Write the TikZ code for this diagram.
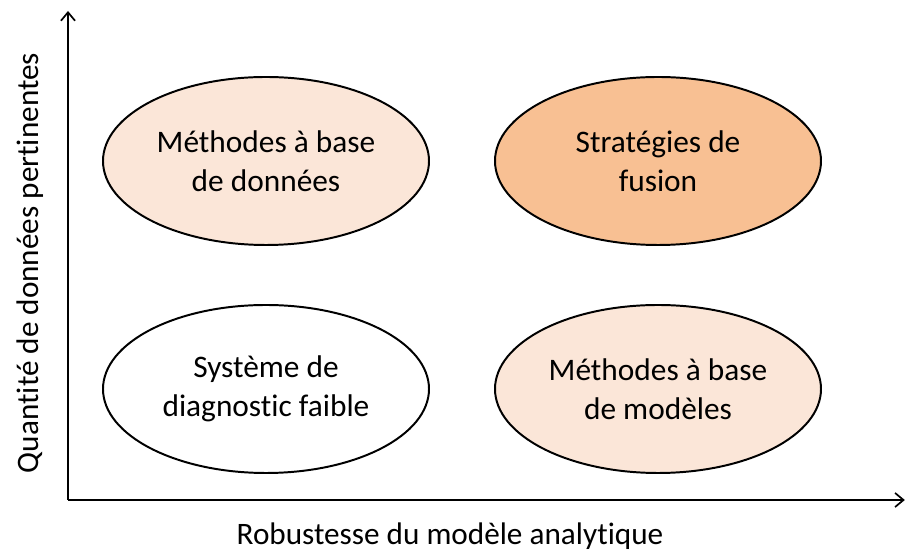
\documentclass[tikz,border=0pt]{standalone}
\usepackage{fontspec}
\setmainfont[Ligatures=NoCommon]{Carlito}
\usetikzlibrary{shapes.geometric,arrows.meta}

\definecolor{peachlight}{HTML}{FBE6D8}
\definecolor{peachdark}{HTML}{F8C093}

\begin{document}
\begin{tikzpicture}[
zone/.style = {ellipse, draw=black, line width=1.4pt, minimum width=8.15cm, minimum height=4.2cm,
  align=center, font=\fontsize{22.3}{27.5}\selectfont, fill=#1},
axislabel/.style = {font=\fontsize{22.2}{26}\selectfont},
axis/.style = {-{Straight Barb[length=6pt,width=10pt]}, line width=1.2pt},
thick]
\useasboundingbox (0,0) rectangle (22.65,13.825);
    \coordinate (O) at (1.7,1.325);
    \coordinate (Y) at (1.7,13.55);
    \coordinate (X) at (22.62,1.325);
    \draw[axis] (O) -- (Y);
    \draw[axis] (O) -- (X);

    \node[zone=peachlight] (BD) at (6.65,9.8) {Méthodes à base\\de données};
    \node[zone=peachdark] (FU) at (16.45,9.8) {Stratégies de\\fusion};
    \node[zone=white] (SD) at (6.65,4.1) {Système de\\diagnostic faible};
    \node[zone=peachlight] (BM) at (16.45,4.1) {Méthodes à base\\de modèles};

    \node[axislabel] (RX) at (11.25,0.42) {Robustesse du modèle analytique};
    \node[axislabel, rotate=90] (QY) at (0.75,7.25) {Quantité de données pertinentes};

\end{tikzpicture}
\end{document}
